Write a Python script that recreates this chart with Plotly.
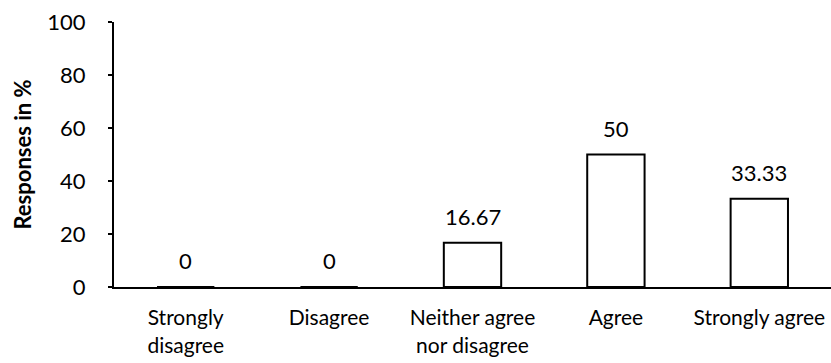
import plotly.graph_objects as go

categories = ["Strongly<br>disagree", "Disagree", "Neither agree<br>nor disagree", "Agree", "Strongly agree"]
responses = [0, 0, 16.67, 50, 33.33]
value_labels = ["0", "0", "16.67", "50", "33.33"]
y_ticks = [0, 20, 40, 60, 80, 100]

FONT = "Lato"

fig = go.Figure(
    go.Bar(
        x=categories,
        y=responses,
        marker=dict(color="white", line=dict(color="black", width=2)),
        width=0.4,
        cliponaxis=False,
    )
)

# value labels sitting above each bar
for cat, val, lab in zip(categories, responses, value_labels):
    fig.add_annotation(
        x=cat, y=val, text=lab, showarrow=False,
        yanchor="bottom", yshift=11,
        font=dict(family=FONT, size=22, color="black"),
    )

fig.update_layout(
    width=831,
    height=363,
    margin=dict(l=114, r=0, t=22, b=76),
    plot_bgcolor="white",
    paper_bgcolor="white",
    showlegend=False,
    font=dict(family=FONT, size=22, color="black"),
)

fig.update_xaxes(
    showline=True,
    linecolor="black",
    linewidth=2,
    ticks="",
    tickfont=dict(family=FONT, size=21),
    ticklabelstandoff=11,
    showgrid=False,
)

fig.update_yaxes(
    range=[0, 100],
    tickvals=y_ticks,
    showline=True,
    linecolor="black",
    linewidth=2,
    ticks="outside",
    ticklen=4,
    tickwidth=2,
    tickcolor="black",
    showgrid=False,
    zeroline=False,
    tickfont=dict(family=FONT, size=22),
    ticklabelstandoff=18,
    title=dict(text="<b>Responses in %</b>", font=dict(family=FONT, size=22), standoff=10),
)

fig.write_html("out.html")
